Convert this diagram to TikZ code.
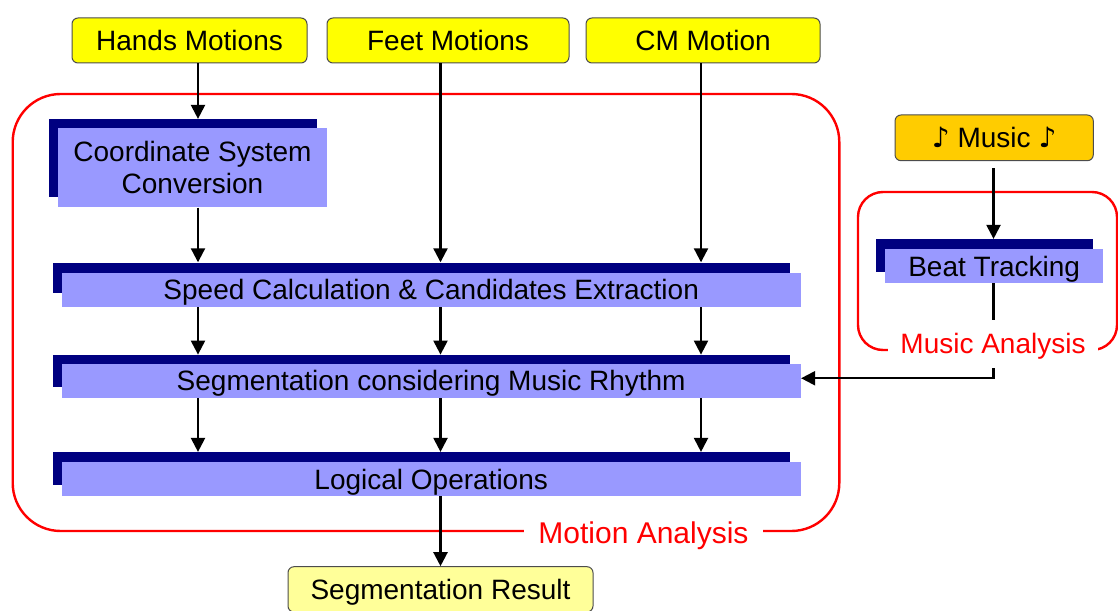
\documentclass[tikz,border=0pt]{standalone}
\usepackage{fontspec}
\setmainfont{Liberation Sans}
\newfontfamily\symfont{DejaVu Sans}
\usetikzlibrary{arrows.meta}
\definecolor{navyshadow}{HTML}{000080}
\definecolor{lightblue}{HTML}{9999FF}
\definecolor{inyellow}{HTML}{FFFF00}
\definecolor{outyellow}{HTML}{FFFF99}
\definecolor{musicorange}{HTML}{FFCC00}
\definecolor{redline}{HTML}{FF0000}
\tikzset{
  txt/.style={font=\fontsize{14pt}{16pt}\selectfont},
  oneline/.style={text height=11pt, text depth=1pt},
  inbox/.style={txt, oneline, draw=black!70, line width=0.5pt, rounded corners=3pt, fill=inyellow, inner sep=0pt},
  outbox/.style={inbox, fill=outyellow},
  musicbox/.style={inbox, fill=musicorange},
  shadowbox/.style={fill=navyshadow, inner sep=0pt},
  stepbox/.style={txt, fill=lightblue, inner sep=0pt, align=center},
  arr/.style={line width=1.1pt, -{Triangle[length=7pt,width=7pt]}},
  group/.style={draw=redline, line width=1.2pt, inner sep=0pt},
  grouplabel/.style={fill=white, text=redline, inner ysep=1pt}
}
\begin{document}
\begin{tikzpicture}[x=0.5pt,y=-0.5pt]
\useasboundingbox (0,0) rectangle (1118,610);
% column coordinates
\coordinate (c1) at (198,0);
\coordinate (c2) at (440.5,0);
\coordinate (c3) at (701,0);
\coordinate (c4) at (993.5,0);
% group frames
\node[group, rounded corners=24pt, minimum width=413.3pt, minimum height=218.5pt] (motionA) at (426,312.5) {};
\node[group, rounded corners=12.5pt, minimum width=129.5pt, minimum height=79pt] (musicA) at (987.5,271) {};
% inputs
\node[inbox, minimum width=117.5pt, minimum height=22.5pt] (hands) at (189.5,40.5) {Hands Motions};
\node[inbox, minimum width=121pt, minimum height=22.5pt] (feet) at (448,40.5) {Feet Motions};
\node[inbox, minimum width=117pt, minimum height=22.5pt] (cm) at (703,40.5) {CM Motion};
\node[musicbox, minimum width=99.15pt, minimum height=22.85pt] (music) at (994.15,137.85) {{\symfont ♪} Music {\symfont ♪}};
% steps
\node[shadowbox, minimum width=133.7pt, minimum height=38.7pt] (cscD) at (183,158) {};
\node[stepbox, minimum width=134.2pt, minimum height=39.5pt] (csc) at (192.5,167.8) {Coordinate System\\Conversion};
\node[shadowbox, minimum width=368.75pt, minimum height=15.3pt] (speedD) at (421.25,278) {};
\node[stepbox, oneline, minimum width=369.5pt, minimum height=17pt] (speed) at (431.2,289.7) {Speed Calculation \& Candidates Extraction};
\node[shadowbox, minimum width=368.75pt, minimum height=15.85pt] (segD) at (421.25,370.85) {};
\node[stepbox, oneline, minimum width=369.5pt, minimum height=16.85pt] (seg) at (431.2,380.85) {Segmentation considering Music Rhythm};
\node[shadowbox, minimum width=368.75pt, minimum height=16.35pt] (logD) at (421.25,468.65) {};
\node[stepbox, oneline, minimum width=369.5pt, minimum height=17pt] (logic) at (431.2,479) {Logical Operations};
\node[shadowbox, minimum width=108.35pt, minimum height=16.2pt] (beatD) at (984.35,255.5) {};
\node[stepbox, oneline, minimum width=109.15pt, minimum height=16.7pt] (beat) at (994.15,266) {Beat Tracking};
% output
\node[outbox, minimum width=152.5pt, minimum height=22.65pt] (result) at (440.5,589.35) {Segmentation Result};
% connectors
\draw[arr] (hands.south -| c1) -- (cscD.north -| c1);
\draw[arr] (csc.south -| c1) -- (speedD.north -| c1);
\draw[arr] (feet.south -| c2) -- (speedD.north -| c2);
\draw[arr] (cm.south -| c3) -- (speedD.north -| c3);
\foreach \col in {c1,c2,c3} {
  \draw[arr] (speed.south -| \col) -- (segD.north -| \col);
  \draw[arr] (seg.south -| \col) -- (logD.north -| \col);
}
\draw[arr] (logic.south -| c2) -- (result.north -| c2);
\draw[arr] ([yshift=-3.5pt]music.south -| c4) -- (beatD.north -| c4);
\draw[arr] (beat.south -| c4) |- ([yshift=1.3pt]seg.east);
% group labels
\node[grouplabel, font=\fontsize{15pt}{18pt}\selectfont, inner xsep=7pt, anchor=base] (motionL) at (643.5,543) {Motion Analysis};
\node[grouplabel, txt, oneline, inner xsep=6pt, minimum height=24pt] (musicL) at (993,343.5) {Music Analysis};
\end{tikzpicture}
\end{document}
